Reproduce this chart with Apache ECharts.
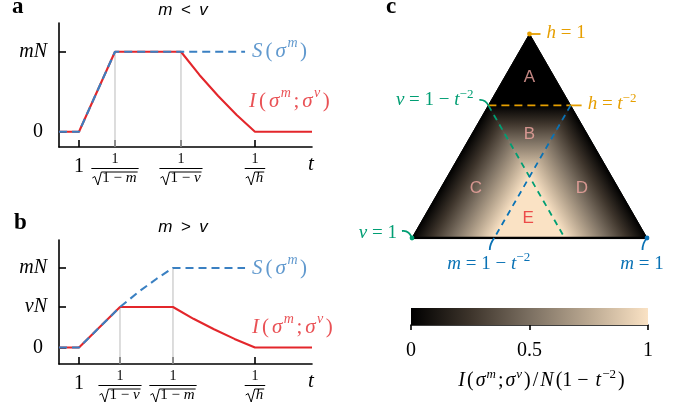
<!DOCTYPE html>
<html><head><meta charset="utf-8">
<script src="https://cdn.jsdelivr.net/npm/echarts@6.0.0/dist/echarts.min.js"></script>
<style>html,body{margin:0;padding:0;background:#fff;}#chart{width:697px;height:405px;}</style>
</head><body><div id="chart"></div>
<script>
// ================= DATA =================
// Panel a (m < v): x = t, y in units of mN
const aRange = [0.954, 1.536];
const aInfoT = [0.954, 1, 1.0828, 1.2346, 1.2771, 1.3197, 1.3622, 1.4048, 1.536];
const aInfoV = [0, 0, 1, 1, 0.71, 0.45, 0.213, 0, 0];
const aEntT = [0.954, 1, 1.0828, 1.382];
const aEntV = [0, 0, 1, 1];
const aTicks = [1, 1.0828, 1.2346, 1.4048];
const aTickKinds = ['1', 'm', 'v', 'h'];          // 1, 1/√(1−m), 1/√(1−ν), 1/√h
const aYTicks = [0, 1];
const aYLabels = ['0', 'mN'];
const aGuides = [[1.0828, 1], [1.2346, 1]];
// Panel b (m > v)
const bRange = [0.954, 1.536];
const bInfoT = [0.954, 1, 1.0943, 1.2162, 1.2634, 1.3105, 1.3577, 1.4048, 1.536];
const bInfoV = [0, 0, 0.509, 0.509, 0.361, 0.229, 0.108, 0, 0];
const bEntT = [0.954, 1, 1.0943, 1.138, 1.1794, 1.2162, 1.382];
const bEntV = [0, 0, 0.509, 0.7033, 0.8679, 1, 1];
const bTicks = [1, 1.0943, 1.2162, 1.4048];
const bTickKinds = ['1', 'v', 'm', 'h'];
const bYTicks = [0, 0.509, 1];
const bYLabels = ['0', 'νN', 'mN'];
const bGuides = [[1.0943, 0.509], [1.2162, 1]];
// Panel c: ternary (m, ν, h), threshold τ = 1 − t^-2
const tau = 0.35;
const regionNames = ['A', 'B', 'C', 'D', 'E'];
const regionLabelAt = [[0.5, 0.79], [0.5, 0.51], [0.272, 0.245], [0.723, 0.245], [0.494, 0.098]];
// colour bar
const cbTicks = [0, 0.5, 1];
const cbLabels = ['0', '0.5', '1'];
const cmapPos = [0, 0.25, 0.5, 0.75, 1];
const cmapColors = ['#000000', '#3d342b', '#7b6f61', '#baa891', '#fae2c4'];

// ================= STYLE =================
const SERIF = '"Liberation Serif","Times New Roman",serif';
const SANS = '"Liberation Sans",Arial,Helvetica,sans-serif';
const RED = '#e3262b', BLUE = '#3a80c2', GUIDE = '#c6c6c6';
const ORANGE = '#e69f00', GREEN = '#009e73', CBLUE = '#0a72b5';
const PINK = '#f4a8a2', ERED = '#e8262b';

function mathRich(size, color, pad, lh) {
  const base = {fontFamily: SERIF, fontSize: size, color: color, lineHeight: Math.round(size * (lh || 1.3)), verticalAlign: 'middle', padding: [0, pad, 0, pad]};
  const sup = {fontFamily: SERIF, fontSize: Math.round(size * 0.66), color: color, verticalAlign: 'top', padding: [0, 1, 0, 0]};
  return {
    r: base,
    i: Object.assign({}, base, {fontStyle: 'italic'}),
    s: Object.assign({}, sup, {fontStyle: 'italic'}),
    q: sup
  };
}

const mctx = document.createElement('canvas').getContext('2d');
function tw(text, font) { mctx.font = font; return mctx.measureText(text).width; }
const F15 = '15px "Liberation Serif"', F15I = 'italic 15px "Liberation Serif"';
function radicand(kind) {
  if (kind === 'm') return {t: '{r|1 − }{i|m}', w: tw('1 − ', F15) + tw('m', F15I)};
  if (kind === 'v') return {t: '{r|1 − }{i|ν}', w: tw('1 − ', F15) + tw('ν', F15I)};
  return {t: '{i|h}', w: tw('h', F15I)};
}
function txt(o) { // text style with both naming conventions
  o.textAlign = o.align; o.textVerticalAlign = o.verticalAlign; return o;
}
function tickLabelRender(kinds) {
  return function (params, api) {
    const kind = kinds[params.dataIndex];
    const x = api.coord([api.value(0), api.value(1)])[0];
    const y0 = params.coordSys.y + params.coordSys.height;
    if (kind === '1') {
      return {type: 'text', style: txt({text: '1', x: x, y: y0 + 19.5, font: '20px ' + SERIF, fill: '#000', align: 'center', verticalAlign: 'middle'})};
    }
    const rd = radicand(kind);
    const w = 10 + rd.w + 1;
    const x0 = x - w / 2;
    return {type: 'group', children: [
      {type: 'text', style: txt({text: '1', x: x, y: y0 + 12, font: '14px ' + SERIF, fill: '#000', align: 'center', verticalAlign: 'middle'})},
      {type: 'line', shape: {x1: x0 - 1, y1: y0 + 21.5, x2: x0 + w + 1, y2: y0 + 21.5}, style: {stroke: '#000', lineWidth: 1}},
      {type: 'polyline', shape: {points: [[x0, y0 + 31], [x0 + 2.5, y0 + 29.5], [x0 + 5.5, y0 + 38], [x0 + 9, y0 + 25], [x0 + w, y0 + 25]]}, style: {stroke: '#000', lineWidth: 1, fill: 'none'}},
      {type: 'text', style: txt({text: rd.t, x: x0 + 10, y: y0 + 31.5, fill: '#000', align: 'left', verticalAlign: 'middle',
        rich: {r: {fontFamily: SERIF, fontSize: 15, color: '#000'}, i: {fontFamily: SERIF, fontSize: 15, fontStyle: 'italic', color: '#000'}}})}
    ]};
  };
}

function lineSeries(xi, xs, ys, color, dashed, z) {
  return {type: 'line', xAxisIndex: xi, yAxisIndex: xi, data: xs.map((t, i) => [t, ys[i]]), symbol: 'none', silent: true, z: z,
    lineStyle: {color: color, width: 2.1, type: dashed ? [8, 5] : 'solid'}};
}
function guideSeries(xi, guides, yMin) {
  return guides.map(g => ({type: 'line', xAxisIndex: xi, yAxisIndex: xi, data: [[g[0], yMin], [g[0], g[1]]], symbol: 'none', silent: true, z: 1,
    lineStyle: {color: GUIDE, width: 1.2}}));
}
function labelSeries(xi, yi, point, text, rich, offset) {
  return {type: 'scatter', xAxisIndex: xi, yAxisIndex: yi, data: [point], symbolSize: 1, silent: true, z: 6,
    itemStyle: {color: 'rgba(0,0,0,0)'},
    label: {show: true, position: 'right', distance: 0, offset: offset, formatter: () => text, rich: rich}};
}
function plotXAxis(gi, range, ticks) {
  return {gridIndex: gi, type: 'value', min: range[0], max: range[1],
    axisLine: {show: true, onZero: false, lineStyle: {color: '#000', width: 1.6}},
    axisTick: {show: true, inside: true, length: 7, customValues: ticks, lineStyle: {color: '#000', width: 1.6}},
    axisLabel: {show: false}, splitLine: {show: false},
    name: 't', nameLocation: 'end', nameGap: -1,
    nameTextStyle: {fontFamily: SERIF, fontStyle: 'italic', fontSize: 21, color: '#000', align: 'center', verticalAlign: 'top', padding: [7, 0, 0, 0]}};
}
const yRich = {
  r: {fontFamily: SERIF, fontSize: 20, color: '#000', padding: [0, 4, 0, 0]},
  i: {fontFamily: SERIF, fontSize: 20, fontStyle: 'italic', color: '#000'}
};
function plotYAxis(gi, range, ticks, labels) {
  return {gridIndex: gi, type: 'value', min: range[0], max: range[1],
    axisLine: {show: true, onZero: false, lineStyle: {color: '#000', width: 1.6}},
    axisTick: {show: true, inside: true, length: 7, customValues: ticks, lineStyle: {color: '#000', width: 1.6}},
    axisLabel: {show: true, customValues: ticks, margin: 12, rich: yRich,
      formatter: v => { const L = labels[ticks.indexOf(v)]; return L === '0' ? '{r|0}' : '{i|' + L + '}'; }},
    splitLine: {show: false}};
}

// ternary -> cartesian (x = m + h/2, y = h)
function tern(p) { return [p[0] + p[2] / 2, p[2]]; }
const T = tau, U = 1 - tau;
const regions = [
  {poly: [[0, 0, 1], [0, T, U], [T, 0, U]], val: 0},
  {poly: [[0, T, U], [T, 0, U], [T, T, 1 - 2 * T]], lo: [T / 2, T / 2, U], hi: [T, T, 1 - 2 * T]},
  {poly: [[0, T, U], [0, 1, 0], [T, U, 0], [T, T, 1 - 2 * T]], lo: [0, 0.5, 0.5], hi: [T, 0.5 - T / 2, 0.5 - T / 2]},
  {poly: [[T, 0, U], [1, 0, 0], [U, T, 0], [T, T, 1 - 2 * T]], lo: [0.5, 0, 0.5], hi: [0.5 - T / 2, T, 0.5 - T / 2]},
  {poly: [[T, T, 1 - 2 * T], [T, U, 0], [U, T, 0]], val: 1}
];
const cmapStops = () => cmapPos.map((p, i) => ({offset: p, color: cmapColors[i]}));

const annots = [
  {at: tern([0, 0, 1]), kind: 'apex', color: ORANGE, text: '{i|h}{r| = 1}'},
  {at: tern([T, 0, U]), kind: 'hR', color: ORANGE, text: '{i|h}{r| = }{i|t}{q|−2}'},
  {at: tern([0, T, U]), kind: 'vL', color: GREEN, text: '{i|ν}{r| = 1 − }{i|t}{q|−2}'},
  {at: tern([0, 1, 0]), kind: 'v1', color: GREEN, text: '{i|ν}{r| = 1}'},
  {at: tern([T, U, 0]), kind: 'mB', color: CBLUE, text: '{i|m}{r| = 1 − }{i|t}{q|−2}'},
  {at: tern([1, 0, 0]), kind: 'm1', color: CBLUE, text: '{i|m}{r| = 1}'}
];
function annotRender(params, api) {
  const a = annots[params.dataIndex];
  const P = api.coord([api.value(0), api.value(1)]);
  const c = a.color;
  const ch = [];
  const dot = () => ch.push({type: 'circle', shape: {cx: P[0], cy: P[1], r: 2.4}, style: {fill: c}});
  const curve = (sx, sy, cx, cy, ex, ey) => ch.push({type: 'bezierCurve', shape: {x1: P[0] + sx, y1: P[1] + sy, cpx1: P[0] + cx, cpy1: P[1] + cy, x2: P[0] + ex, y2: P[1] + ey}, style: {stroke: c, lineWidth: 1.8, fill: 'none'}});
  let tx, ty, al;
  if (a.kind === 'apex') { dot(); ch.push({type: 'line', shape: {x1: P[0], y1: P[1], x2: P[0] + 11, y2: P[1]}, style: {stroke: c, lineWidth: 1.8}}); tx = P[0] + 17; ty = P[1] - 1; al = 'left'; }
  if (a.kind === 'hR') { ch.push({type: 'line', shape: {x1: P[0], y1: P[1], x2: P[0] + 11, y2: P[1]}, style: {stroke: c, lineWidth: 1.8}}); tx = P[0] + 17; ty = P[1] - 1; al = 'left'; }
  if (a.kind === 'vL') { curve(-9, -5.5, -3, -6, 0, 0); tx = P[0] - 14; ty = P[1] - 5; al = 'right'; }
  if (a.kind === 'v1') { dot(); curve(-10, -7, -3, -8, 0, 0); tx = P[0] - 15; ty = P[1] - 5; al = 'right'; }
  if (a.kind === 'mB') { curve(0, 0, -4.5, 6, -4.5, 12); tx = P[0] - 5; ty = P[1] + 26; al = 'center'; }
  if (a.kind === 'm1') { dot(); curve(0, 0, -4.5, 5, -4.5, 12); tx = P[0] - 5; ty = P[1] + 26; al = 'center'; }
  ch.push({type: 'text', style: txt({text: a.text, x: tx, y: ty, fill: c, align: al, verticalAlign: 'middle', rich: mathRich(19, c, 0)})});
  return {type: 'group', children: ch};
}

const triLine = (pts, color, width, dash) => ({type: 'line', xAxisIndex: 2, yAxisIndex: 2, data: pts, symbol: 'none', silent: true, z: 4,
  lineStyle: {color: color, width: width, type: dash || 'solid'}});

const option = {
  animation: false,
  backgroundColor: '#fff',
  title: [
    {text: 'a', left: 12, top: -4, padding: 0, textStyle: {fontFamily: SERIF, fontWeight: 'bold', fontSize: 23, color: '#000'}},
    {text: 'b', left: 14, top: 212, padding: 0, textStyle: {fontFamily: SERIF, fontWeight: 'bold', fontSize: 23, color: '#000'}},
    {text: 'c', left: 386, top: -4, padding: 0, textStyle: {fontFamily: SERIF, fontWeight: 'bold', fontSize: 23, color: '#000'}},
    {text: 'm\u2002<\u2002v', left: 183, top: 2, padding: 0, textAlign: 'center', textStyle: {fontFamily: SANS, fontStyle: 'italic', fontWeight: 'normal', fontSize: 17, color: '#000'}},
    {text: 'm\u2002>\u2002v', left: 183, top: 219, padding: 0, textAlign: 'center', textStyle: {fontFamily: SANS, fontStyle: 'italic', fontWeight: 'normal', fontSize: 17, color: '#000'}}
  ],
  grid: [
    {left: 59, top: 23, width: 253, height: 124, containLabel: false, outerBoundsMode: 'none'},
    {left: 59, top: 240, width: 253, height: 124, containLabel: false, outerBoundsMode: 'none'},
    {left: 412, top: 34, width: 235, height: 204, containLabel: false, outerBoundsMode: 'none'},
    {left: 411, top: 308, width: 237, height: 17, containLabel: false, outerBoundsMode: 'none'}
  ],
  xAxis: [
    plotXAxis(0, aRange, aTicks),
    plotXAxis(1, bRange, bTicks),
    {gridIndex: 2, type: 'value', min: 0, max: 1, show: false},
    {gridIndex: 3, type: 'value', min: 0, max: 1,
      axisLine: {show: true, onZero: false, lineStyle: {color: '#000', width: 1.6}},
      axisTick: {show: true, inside: false, length: 5, customValues: cbTicks, lineStyle: {color: '#000', width: 1.6}},
      axisLabel: {show: true, customValues: cbTicks, margin: 16, fontFamily: SERIF, fontSize: 20, color: '#000',
        formatter: v => cbLabels[cbTicks.indexOf(v)]},
      splitLine: {show: false},
      name: '{i|I}{r|(}{i|σ}{s|m}{r|;}{i|σ}{s|ν}{r|)}{r|/}{i|N}{r|(1 − }{i|t}{q|−2}{r|)}',
      nameLocation: 'middle', nameGap: 56,
      nameTextStyle: {rich: mathRich(20, '#000', 1), verticalAlign: 'middle', padding: [0, 0, 0, 24]}}
  ],
  yAxis: [
    plotYAxis(0, [-0.19, 1.359], aYTicks, aYLabels),
    plotYAxis(1, [-0.2075, 1.352], bYTicks, bYLabels),
    {gridIndex: 2, type: 'value', min: 0, max: 1, show: false},
    {gridIndex: 3, type: 'value', min: 0, max: 1, show: false}
  ],
  series: [
    // ---- panel a
    ...guideSeries(0, aGuides, -0.19),
    lineSeries(0, aInfoT, aInfoV, RED, false, 2),
    lineSeries(0, aEntT, aEntV, BLUE, true, 3),
    {type: 'custom', xAxisIndex: 0, yAxisIndex: 0, data: aTicks.map(t => [t, 0]), encode: {x: 0, y: 1}, silent: true, renderItem: tickLabelRender(aTickKinds), z: 5},
    labelSeries(0, 0, [aEntT[aEntT.length - 1], aEntV[aEntV.length - 1]], '{i|S}{r|(}{i|σ}{s|m}{r|)}', mathRich(21, BLUE, 1.5, 1.45), [5, 0]),
    labelSeries(0, 0, [aTicks[3], 0], '{i|I}{r|(}{i|σ}{s|m}{r|;}{i|σ}{s|ν}{r|)}', mathRich(21, RED, 1.5, 1.45), [-8, -30]),
    // ---- panel b
    ...guideSeries(1, bGuides, -0.2075),
    lineSeries(1, bInfoT, bInfoV, RED, false, 2),
    lineSeries(1, bEntT, bEntV, BLUE, true, 3),
    {type: 'custom', xAxisIndex: 1, yAxisIndex: 1, data: bTicks.map(t => [t, 0]), encode: {x: 0, y: 1}, silent: true, renderItem: tickLabelRender(bTickKinds), z: 5},
    labelSeries(1, 1, [bEntT[bEntT.length - 1], bEntV[bEntV.length - 1]], '{i|S}{r|(}{i|σ}{s|m}{r|)}', mathRich(21, BLUE, 1.5, 1.45), [5, 0]),
    labelSeries(1, 1, [bTicks[3], 0], '{i|I}{r|(}{i|σ}{s|m}{r|;}{i|σ}{s|ν}{r|)}', mathRich(21, RED, 1.5, 1.45), [-5, -20]),
    // ---- panel c: field
    {type: 'custom', xAxisIndex: 2, yAxisIndex: 2, data: regions.map((r, i) => [0.5, 0.5, i]), encode: {x: 0, y: 1}, silent: true, z: 2,
      renderItem: function (params, api) {
        const r = regions[params.dataIndex];
        const pts = r.poly.map(p => api.coord(tern(p)));
        let fill;
        if (r.lo) {
          const a = api.coord(tern(r.lo)), b = api.coord(tern(r.hi));
          fill = new echarts.graphic.LinearGradient(a[0], a[1], b[0], b[1], cmapStops(), true);
        } else {
          fill = r.val === 0 ? cmapColors[0] : cmapColors[cmapColors.length - 1];
        }
        return {type: 'polygon', shape: {points: pts}, style: {fill: fill, stroke: fill, lineWidth: 0.8}};
      }},
    triLine([[0, 0], [0.5, 1], [1, 0]], '#000', 1),
    triLine([[0, 0], [1, 0]], '#000', 2.6),
    triLine([tern([0, T, U]), tern([T, 0, U])], ORANGE, 1.8, [8, 5]),
    triLine([tern([0, T, U]), tern([U, T, 0])], GREEN, 1.8, [6, 5]),
    triLine([tern([T, 0, U]), tern([T, U, 0])], CBLUE, 1.8, [6, 5]),
    {type: 'scatter', xAxisIndex: 2, yAxisIndex: 2, silent: true, z: 6, symbolSize: 1, itemStyle: {color: 'rgba(0,0,0,0)'},
      data: regionLabelAt.map((p, i) => ({value: p, label: {color: i === 4 ? ERED : PINK}})),
      label: {show: true, position: 'inside', fontFamily: SANS, fontSize: 17, formatter: p => regionNames[p.dataIndex]}},
    {type: 'custom', xAxisIndex: 2, yAxisIndex: 2, data: annots.map(a => a.at), encode: {x: 0, y: 1}, silent: true, z: 7, renderItem: annotRender},
    // ---- colour bar
    {type: 'custom', xAxisIndex: 3, yAxisIndex: 3, data: [[0, 0]], encode: {x: 0, y: 1}, silent: true, z: 1,
      renderItem: function (params, api) {
        const p0 = api.coord([0, 0]), p1 = api.coord([1, 1]);
        return {type: 'rect', shape: {x: p0[0], y: p1[1], width: p1[0] - p0[0], height: p0[1] - p1[1]},
          style: {fill: new echarts.graphic.LinearGradient(p0[0], 0, p1[0], 0, cmapStops(), true)}};
      }}
  ]
};
const chart = echarts.init(document.getElementById('chart'), null, {renderer: 'canvas'});
chart.setOption(option);
</script>
</body></html>
